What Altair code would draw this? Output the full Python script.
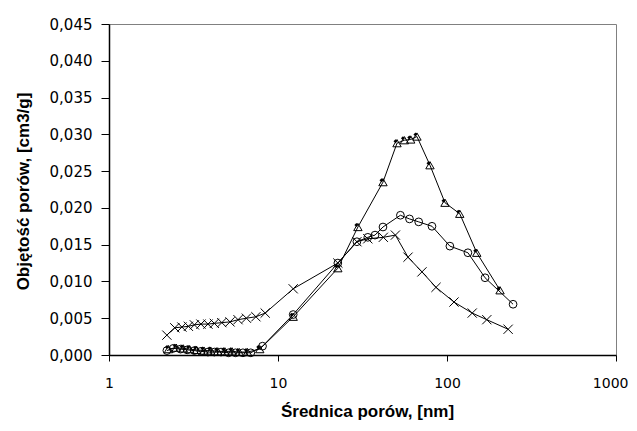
import altair as alt
import pandas as pd

# Series: crosses
x_cross = [2.2, 2.45, 2.7, 2.95, 3.2, 3.5, 3.85, 4.2, 4.65, 5.2, 5.8, 6.5, 7.4, 8.4,
           12.3, 22.6, 29.3, 34.0, 42.0, 49.5, 58.8, 71.1, 86.1, 110.0, 141.0, 172.0, 230.0]
y_cross = [0.0027, 0.0037, 0.0038, 0.0039, 0.0041, 0.0042, 0.0042, 0.0043, 0.0044, 0.0045,
           0.0048, 0.0050, 0.0052, 0.0057, 0.0090, 0.0125, 0.0154, 0.0158, 0.0160, 0.0163,
           0.0133, 0.0113, 0.0092, 0.0072, 0.0057, 0.0048, 0.0035]

# Series: circles
x_circ = [2.2, 2.4, 2.65, 2.9, 3.2, 3.5, 3.85, 4.2, 4.6, 5.1, 5.6, 6.2, 6.9, 8.1,
          12.3, 22.6, 29.3, 34.0, 37.5, 41.8, 53.0, 60.0, 68.0, 81.5, 104.0, 133.0, 168.0, 246.0]
y_circ = [0.0006, 0.0009, 0.0008, 0.0007, 0.0006, 0.0005, 0.0004, 0.0004, 0.0004, 0.0003,
          0.0003, 0.0003, 0.0003, 0.0012, 0.0055, 0.0125, 0.0154, 0.0160, 0.0163, 0.0174,
          0.0190, 0.0185, 0.0181, 0.0175, 0.0148, 0.0139, 0.0105, 0.0069]

# Series: triangles
x_tri = [2.25, 2.5, 2.75, 3.0, 3.3, 3.65, 4.0, 4.4, 4.85, 5.35, 5.9, 6.6, 7.8,
         12.3, 22.6, 29.7, 41.8, 50.6, 56.0, 61.0, 66.4, 79.3, 97.3, 119.0, 150.0, 206.0]
y_tri = [0.0008, 0.0010, 0.0009, 0.0008, 0.0007, 0.0006, 0.0006, 0.0005, 0.0005, 0.0005,
         0.0004, 0.0004, 0.0008, 0.0052, 0.0118, 0.0174, 0.0235, 0.0288, 0.0292, 0.0293,
         0.0297, 0.0258, 0.0207, 0.0192, 0.0139, 0.0088]

y_ticks = [0.0, 0.005, 0.010, 0.015, 0.020, 0.025, 0.030, 0.035, 0.040, 0.045]
x_ticks = [1, 10, 100, 1000]

df_cross = pd.DataFrame({"x": x_cross, "y": y_cross})
df_circ = pd.DataFrame({"x": x_circ, "y": y_circ})
df_tri = pd.DataFrame({"x": x_tri, "y": y_tri})

FONT = "Liberation Sans"
LFONT = "DejaVu Sans"

xscale = alt.Scale(type="log", domain=[1, 1000], nice=False)
yscale = alt.Scale(domain=[0, 0.045], nice=False, zero=True)

xaxis = alt.Axis(values=x_ticks, format="d", title="Średnica porów, [nm]",
                 grid=False, domainColor="black", domainWidth=1.5,
                 tickColor="black", tickSize=6, labelPadding=15,
                 labelFont=LFONT, labelFontSize=14, labelColor="black",
                 labelAlign={"condition": {"test": "datum.value >= 1000", "value": "right"},
                             "value": "center"},
                 labelOffset={"condition": {"test": "datum.value >= 1000", "value": 12},
                              "value": 0},
                 titleFont=FONT, titleFontSize=17, titleFontWeight="bold",
                 titleColor="black", titleX=258, titleY=56, titleAlign="center",
                 titleBaseline="middle", labelFlush=False)
yaxis = alt.Axis(values=y_ticks, title="Objętość porów, [cm3/g]",
                 labelExpr="replace(format(datum.value, '.3f'), '.', ',')",
                 grid=False, domainColor="black", domainWidth=1.5,
                 tickColor="black", tickSize=8, labelPadding=9,
                 labelFont=LFONT, labelFontSize=15, labelColor="black",
                 titleFont=FONT, titleFontSize=17, titleFontWeight="bold",
                 titleColor="black", titleX=-86, titleY=167, titleAngle=270,
                 titleAlign="center", titleBaseline="middle")

def enc():
    return dict(x=alt.X("x:Q", scale=xscale, axis=xaxis),
                y=alt.Y("y:Q", scale=yscale, axis=yaxis),
                order=alt.Order("x:Q"))

layers = []
for df, shape, size in [
    (df_cross, "M-1,-1L1,1M-1,1L1,-1", 85),
    (df_circ, "circle", 60),
    (df_tri, "triangle-up", 70),
]:
    layers.append(alt.Chart(df).mark_line(color="black", strokeWidth=1).encode(**enc()))
    layers.append(alt.Chart(df).mark_point(shape=shape, size=size, filled=False,
                                           color="black", strokeWidth=1, opacity=1).encode(**enc()))

# small filled marks on the triangle points
layers.append(alt.Chart(df_tri).mark_point(shape="diamond", size=16, filled=True,
                                           color="black", opacity=1,
                                           xOffset=-1.5, yOffset=-2).encode(**enc()))

chart = alt.layer(*layers).properties(
    width=507, height=331,
    padding={"left": 101, "top": 16, "right": 13, "bottom": 68},
    autosize=alt.AutoSizeParams(type="none"),
    background="white",
).configure_view(stroke="#808080", strokeWidth=1)

chart.save("out.html", embed_options={"renderer": "svg", "actions": False})
